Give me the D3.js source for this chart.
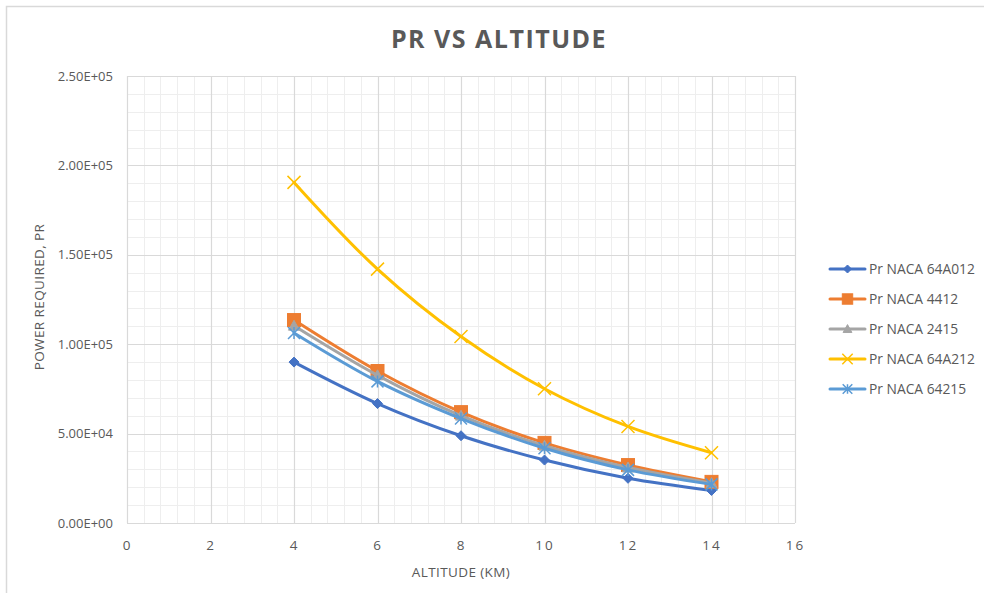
<!DOCTYPE html>
<html>
<head>
<meta charset="utf-8">
<script src="https://cdn.jsdelivr.net/npm/d3@7/dist/d3.min.js"></script>
<style>
  html, body { margin: 0; padding: 0; background: #fff; }
  svg { display: block; }
  text { font-family: "Open Sans", "Noto Sans", sans-serif; }
</style>
</head>
<body>
<svg id="chart" width="984" height="593"></svg>
<script>
// ---- Data ----
const altitudes = [4, 6, 8, 10, 12, 14];
const seriesNames = ["Pr NACA 64A012", "Pr NACA 4412", "Pr NACA 2415", "Pr NACA 64A212", "Pr NACA 64215"];
const pr64A012 = [90000, 66800, 48800, 35200, 25000, 18200];
const pr4412   = [113500, 85000, 62000, 44800, 32400, 23000];
const pr2415   = [110300, 82600, 60000, 43200, 31000, 22300];
const pr64A212 = [190500, 142000, 104300, 75100, 54000, 39300];
const pr64215  = [106300, 79200, 58400, 41800, 29700, 21600];
const xTicks = [0, 2, 4, 6, 8, 10, 12, 14, 16];
const yTicks = [0, 50000, 100000, 150000, 200000, 250000];
const yTickLabels = ["0.00E+00", "5.00E+04", "1.00E+05", "1.50E+05", "2.00E+05", "2.50E+05"];

const seriesValues = [pr64A012, pr4412, pr2415, pr64A212, pr64215];
const colors = ["#4472C4", "#ED7D31", "#A5A5A5", "#FFC000", "#5B9BD5"];
const markers = ["diamond", "square", "triangle", "x", "star"];

// ---- Layout ----
const svg = d3.select("#chart");
const plot = { left: 127, right: 795, top: 76, bottom: 523 };

const x = d3.scaleLinear().domain([0, 16]).range([plot.left, plot.right]);
const y = d3.scaleLinear().domain([0, 250000]).range([plot.bottom, plot.top]);

// outer chart border
svg.append("rect").attr("x", 6.5).attr("y", 6.5).attr("width", 1000).attr("height", 600)
  .attr("fill", "none").attr("stroke", "#d9d9d9").attr("stroke-width", 1.5);

// title
svg.append("text").attr("x", 499).attr("y", 48).attr("text-anchor", "middle")
  .attr("font-size", 25).attr("font-weight", "bold").attr("fill", "#595959")
  .attr("letter-spacing", "1.5px").text("PR VS ALTITUDE");

// minor gridlines
const minorX = d3.range(0, 16.001, 0.4);
const minorY = d3.range(0, 250001, 10000);
const g = svg.append("g");
g.selectAll(".mx").data(minorX).enter().append("line")
  .attr("x1", d => Math.round(x(d)) + 0.5).attr("x2", d => Math.round(x(d)) + 0.5)
  .attr("y1", plot.top).attr("y2", plot.bottom)
  .attr("stroke", "#eeeeee").attr("stroke-width", 1);
g.selectAll(".my").data(minorY).enter().append("line")
  .attr("y1", d => Math.round(y(d)) + 0.5).attr("y2", d => Math.round(y(d)) + 0.5)
  .attr("x1", plot.left).attr("x2", plot.right)
  .attr("stroke", "#eeeeee").attr("stroke-width", 1);

// major gridlines
g.selectAll(".Mx").data(xTicks).enter().append("line")
  .attr("x1", d => Math.round(x(d)) + 0.5).attr("x2", d => Math.round(x(d)) + 0.5)
  .attr("y1", plot.top).attr("y2", plot.bottom)
  .attr("stroke", "#d9d9d9").attr("stroke-width", 1.2);
g.selectAll(".My").data(yTicks).enter().append("line")
  .attr("y1", d => Math.round(y(d)) + 0.5).attr("y2", d => Math.round(y(d)) + 0.5)
  .attr("x1", plot.left).attr("x2", plot.right)
  .attr("stroke", "#d9d9d9").attr("stroke-width", 1.2);

// axes (labels only, via d3 axes)
const xAxis = d3.axisBottom(x).tickValues(xTicks).tickSize(0).tickPadding(17);
const xg = svg.append("g").attr("transform", `translate(0,${plot.bottom})`).call(xAxis);
xg.select(".domain").remove();
xg.selectAll("text").attr("font-size", 13.5).attr("fill", "#595959")
  .attr("letter-spacing", "2px")
  .style("font-family", "'Open Sans', sans-serif");

const yAxis = d3.axisLeft(y).tickValues(yTicks).tickSize(0).tickPadding(14)
  .tickFormat((d, i) => yTickLabels[i]);
const yg = svg.append("g").attr("transform", `translate(${plot.left},0)`).call(yAxis);
yg.select(".domain").remove();
yg.selectAll("text").attr("font-size", 13).attr("fill", "#595959")
  .style("font-family", "'Open Sans', sans-serif");

// axis titles
svg.append("text").attr("x", 461).attr("y", 577).attr("text-anchor", "middle")
  .attr("font-size", 13.5).attr("letter-spacing", "0.4px").attr("fill", "#595959").text("ALTITUDE (KM)");
svg.append("text").attr("transform", "translate(44,297) rotate(-90)").attr("text-anchor", "middle")
  .attr("font-size", 13.5).attr("letter-spacing", "0.4px").attr("fill", "#595959").text("POWER REQUIRED, PR");

// marker drawing
function drawMarker(sel, type, color, cx, cy, s) {
  if (type === "diamond") {
    sel.append("path").attr("d", `M${cx},${cy - s} L${cx + s},${cy} L${cx},${cy + s} L${cx - s},${cy} Z`)
      .attr("fill", color).attr("stroke", color);
  } else if (type === "square") {
    sel.append("rect").attr("x", cx - s).attr("y", cy - s).attr("width", 2 * s).attr("height", 2 * s)
      .attr("fill", color).attr("stroke", color);
  } else if (type === "triangle") {
    sel.append("path").attr("d", `M${cx},${cy - s} L${cx + s},${cy + s * 0.8} L${cx - s},${cy + s * 0.8} Z`)
      .attr("fill", color).attr("stroke", color);
  } else if (type === "x") {
    sel.append("path").attr("d", `M${cx - s},${cy - s} L${cx + s},${cy + s} M${cx - s},${cy + s} L${cx + s},${cy - s}`)
      .attr("stroke", color).attr("stroke-width", 1.5).attr("fill", "none");
  } else if (type === "star") {
    sel.append("path").attr("d", `M${cx - s},${cy - s} L${cx + s},${cy + s} M${cx - s},${cy + s} L${cx + s},${cy - s} M${cx},${cy - s} L${cx},${cy + s}`)
      .attr("stroke", color).attr("stroke-width", 1.5).attr("fill", "none");
  }
}

const line = d3.line().x(d => x(d[0])).y(d => y(d[1])).curve(d3.curveCatmullRom.alpha(0.5));
const markerSize = [5, 6.5, 5.5, 6.5, 6];

seriesValues.forEach((vals, i) => {
  const pts = altitudes.map((a, j) => [a, vals[j]]);
  const sg = svg.append("g");
  sg.append("path").datum(pts).attr("d", line)
    .attr("fill", "none").attr("stroke", colors[i]).attr("stroke-width", 3)
    .attr("stroke-linejoin", "round").attr("stroke-linecap", "round");
  pts.forEach(p => drawMarker(sg, markers[i], colors[i], x(p[0]), y(p[1]), markerSize[i]));
});

// legend
const legend = svg.append("g");
seriesNames.forEach((name, i) => {
  const ly = 269 + i * 30;
  legend.append("line").attr("x1", 830).attr("x2", 865).attr("y1", ly).attr("y2", ly)
    .attr("stroke", colors[i]).attr("stroke-width", 3).attr("stroke-linecap", "round");
  drawMarker(legend, markers[i], colors[i], 847.5, ly, markerSize[i] * 0.8);
  legend.append("text").attr("x", 869).attr("y", ly + 5).attr("font-size", 13.8)
    .attr("fill", "#595959").text(name);
});
</script>
</body>
</html>
